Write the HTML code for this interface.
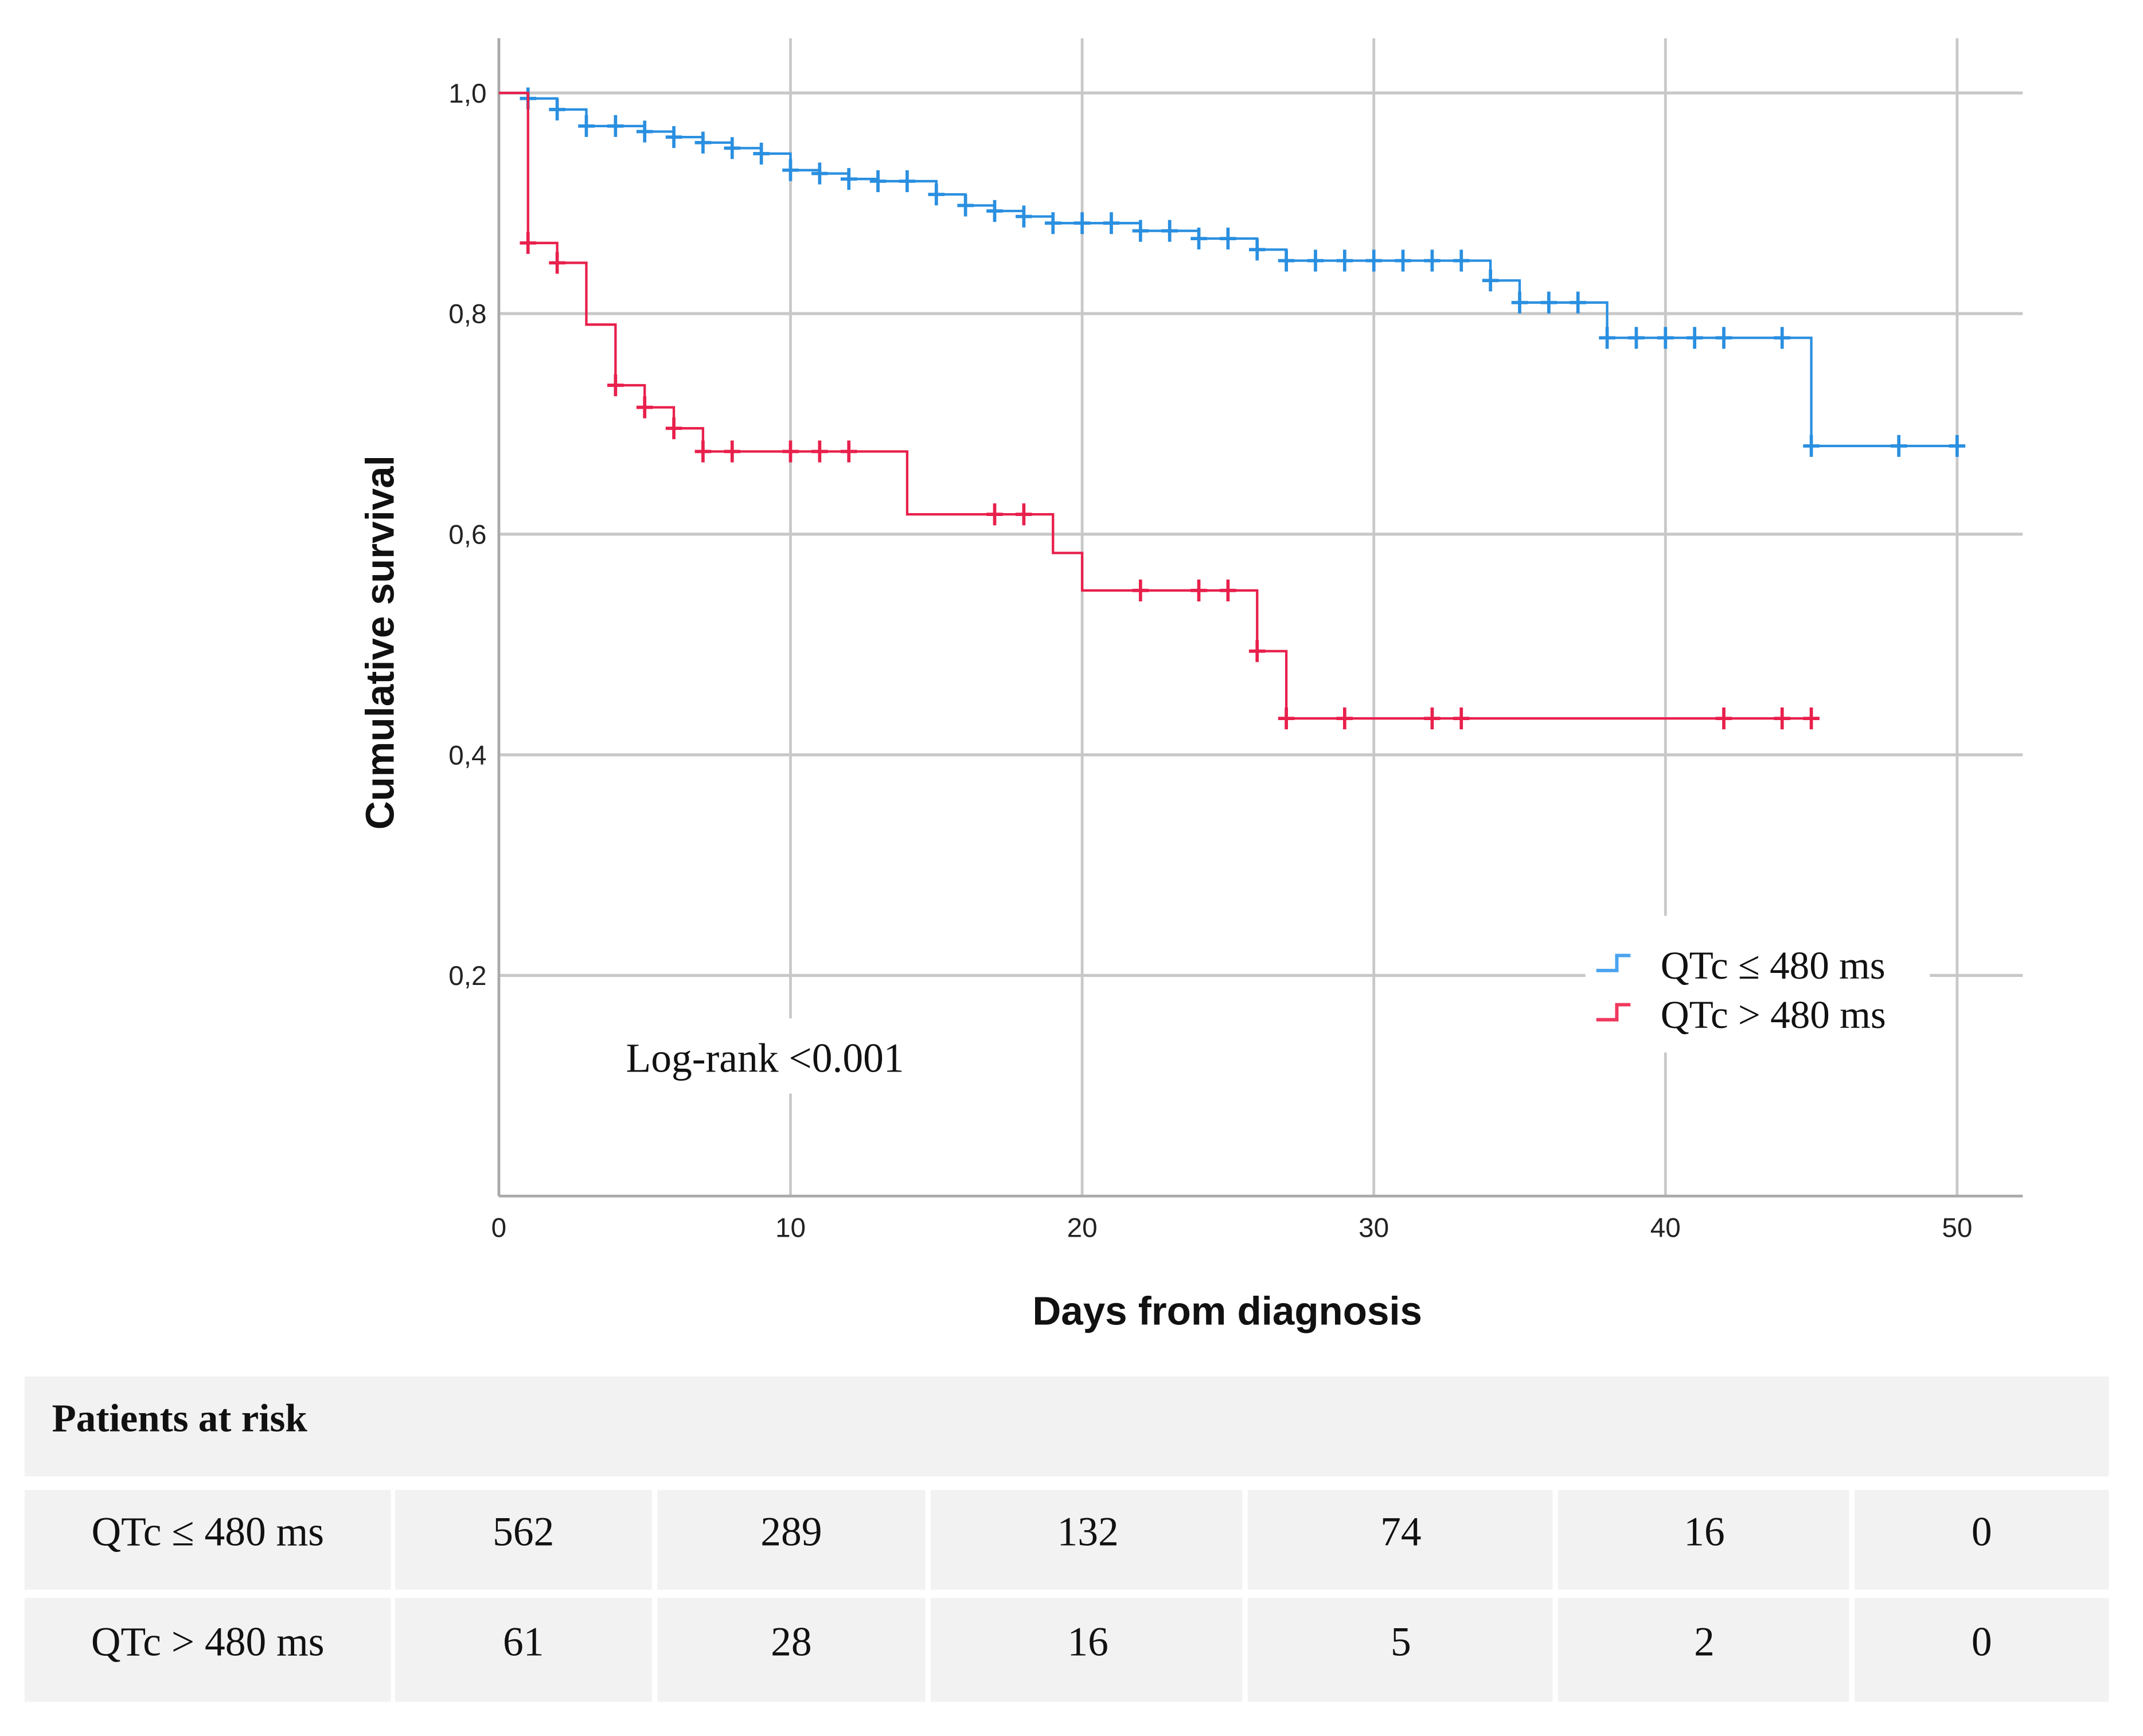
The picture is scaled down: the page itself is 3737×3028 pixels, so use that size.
<!DOCTYPE html>
<html><head><meta charset="utf-8"><style>
html,body{margin:0;padding:0;background:#fff;}
svg{display:block;}
</style></head><body>
<svg id="chart" width="3737" height="3028" viewBox="0 0 1568 1270" preserveAspectRatio="none" xmlns="http://www.w3.org/2000/svg">
<g id="grid"></g>
<g id="overlay"></g>
<g id="series"></g>
<g id="ticks" font-family="Liberation Sans, sans-serif" font-size="20" fill="#222"></g>
<text x="0" y="0" transform="translate(288,470) rotate(-90)" text-anchor="middle" font-family="Liberation Sans, sans-serif" font-weight="bold" font-size="29" fill="#111">Cumulative survival</text>
<text x="898" y="969" text-anchor="middle" font-family="Liberation Sans, sans-serif" font-weight="bold" font-size="29" fill="#111">Days from diagnosis</text>
<g id="table" font-family="Liberation Serif, serif" font-size="30" fill="#111"></g>
</svg>
<script>
// ---- data ----
const xTicks = [0,10,20,30,40,50];
const yTicks = [0.2,0.4,0.6,0.8,1.0];
const yTickLabels = ["0,2","0,4","0,6","0,8","1,0"];
const blueTimes = [0,1,2,3,5,6,7,8,9,10,11,12,13,15,16,17,18,19,22,24,26,27,34,35,38,45,50];
const blueSurv  = [1.0,0.995,0.985,0.97,0.965,0.96,0.955,0.95,0.945,0.93,0.927,0.922,0.92,0.908,0.898,0.893,0.888,0.882,0.875,0.868,0.858,0.848,0.83,0.81,0.778,0.68,0.68];
const blueCensor = [1,2,3,4,5,6,7,8,9,10,11,12,13,14,15,16,17,18,19,20,21,22,23,24,25,26,27,28,29,30,31,32,33,34,35,36,37,38,39,40,41,42,44,45,48,50];
const redTimes = [0,1,2,3,4,5,6,7,14,19,20,26,27,45];
const redSurv  = [1.0,0.864,0.846,0.79,0.735,0.715,0.696,0.675,0.618,0.583,0.549,0.494,0.433,0.433];
const redCensor = [1,2,4,5,6,7,8,10,11,12,17,18,22,24,25,26,27,29,32,33,42,44,45];
const riskBlue = ["562","289","132","74","16","0"];
const riskRed  = ["61","28","16","5","2","0"];

// ---- scales ----
const X0=365, X1=1432, Y0=875, Y1=68;
const xs = d => X0 + (d/50)*(X1-X0);
const ys = v => Y0 - v*(Y0-Y1);
const NS="http://www.w3.org/2000/svg";
function mk(tag, attrs, parent){const e=document.createElementNS(NS,tag);for(const k in attrs)e.setAttribute(k,attrs[k]);parent.appendChild(e);return e;}
const grid=document.getElementById('grid');
yTicks.forEach((v,i)=>{
  const l=mk('line',{x1:X0,x2:1480,y1:ys(v),y2:ys(v),stroke:'#c8c8c8','stroke-width':2.2},grid);
  
  
});
xTicks.forEach(d=>{
  const l=mk('line',{x1:xs(d),x2:xs(d),y1:28,y2:Y0,stroke:'#c8c8c8','stroke-width':2},grid);
  
  
});
const ax1=mk('line',{x1:X0,x2:1480,y1:Y0,y2:Y0,stroke:'#aaa','stroke-width':2},grid);


const ax2=mk('line',{x1:X0,x2:X0,y1:28,y2:Y0,stroke:'#aaa','stroke-width':2},grid);



const ticks=document.getElementById('ticks');
xTicks.forEach(d=>{
  const t=mk('text',{x:xs(d),y:905,'text-anchor':'middle'},ticks);t.textContent=d;
  
  
});
yTicks.forEach((v,i)=>{
  const t=mk('text',{x:356,y:ys(v)+7,'text-anchor':'end'},ticks);t.textContent=yTickLabels[i];
  
  
});

// overlays (white boxes for annotation & legend)
const ov=document.getElementById('overlay');
mk('rect',{x:440,y:745,width:260,height:55,fill:'#fff'},ov);
const lr=mk('text',{x:458,y:784,'font-family':'Liberation Serif, serif','font-size':30,fill:'#111'},ov);
lr.textContent='Log-rank <0.001';


mk('rect',{x:1160,y:670,width:252,height:100,fill:'#fff'},ov);
const legend=mk('g',{},ov);


[['#4aa3f0','QTc ≤ 480 ms',716],['#f0385e','QTc > 480 ms',752]].forEach(([c,label,y],i)=>{
  const g=mk('g',{},legend);
  
  
  mk('path',{d:`M1168 ${y-6} H1183 V${y-17} H1193`,fill:'none',stroke:c,'stroke-width':2.5},g);
  const t=mk('text',{x:1215,y:y,'font-family':'Liberation Serif, serif','font-size':29,fill:'#111'},g);
  t.textContent=label;
});

// series
const series=document.getElementById('series');
function stepVal(times,surv,t){let v=surv[0];for(let i=0;i<times.length;i++){if(times[i]<=t)v=surv[i];}return v;}
function drawSeries(times,surv,censor,color,name){
  const g=mk('g',{},series);
  
  
  let d=`M${xs(times[0])} ${ys(surv[0])}`;
  for(let i=1;i<times.length;i++){d+=` H${xs(times[i])} V${ys(surv[i])}`;}
  const p=mk('path',{d:d,fill:'none',stroke:color,'stroke-width':1.8},g);
  
  
  censor.forEach(t=>{
    const v=stepVal(times,surv,t);
    const m=mk('path',{d:`M${xs(t)} ${ys(v)-8} V${ys(v)+8} M${xs(t)-6} ${ys(v)} H${xs(t)+6}`,stroke:color,'stroke-width':2.4,fill:'none'},g);
    
    
  });
}
drawSeries(blueTimes,blueSurv,blueCensor,'#2a8fe0','series-qtc-le-480');
drawSeries(redTimes,redSurv,redCensor,'#e8204c','series-qtc-gt-480');

// table
const tb=document.getElementById('table');
const hdr=mk('rect',{x:18,y:1007,width:1525,height:73,fill:'#f2f2f2'},tb);


const ht=mk('text',{x:38,y:1047,'font-weight':'bold','font-size':29},tb);ht.textContent='Patients at risk';


const colB=[[18,286],[289,477],[481,677],[681,909],[913,1136],[1140,1353],[1357,1543]];
const centers=[383,579,796,1025,1247,1450];
[[1090,1163,'QTc ≤ 480 ms',riskBlue],[1169,1245,'QTc  > 480 ms',riskRed]].forEach(([y0,y1,lab,vals])=>{
  colB.forEach(([a,b])=>{
    const r=mk('rect',{x:a,y:y0,width:b-a,height:y1-y0,fill:'#f2f2f2'},tb);
    
    
  });
  const yl=(y0+y1)/2+4;
  const t=mk('text',{x:152,y:yl,'text-anchor':'middle'},tb);t.textContent=lab;
  
  
  vals.forEach((v,i)=>{
    const n=mk('text',{x:centers[i],y:yl,'text-anchor':'middle'},tb);n.textContent=v;
    
    
  });
});
</script>
</body></html>
